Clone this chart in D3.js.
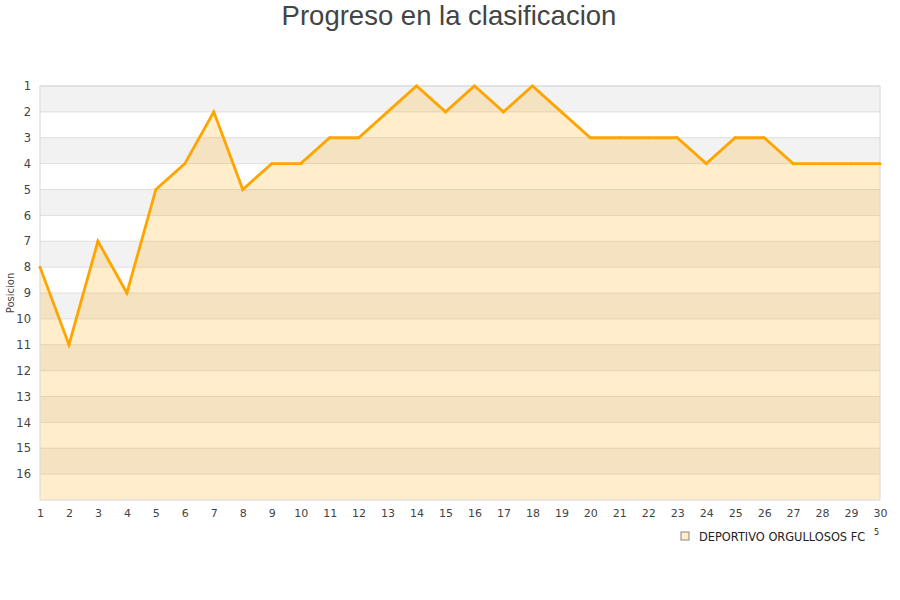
<!DOCTYPE html>
<html>
<head>
<meta charset="utf-8">
<script src="https://cdn.jsdelivr.net/npm/d3@7"></script>
<style>
  body { margin: 0; background: #fff; }
  svg { display: block; }
</style>
</head>
<body>
<div id="chart"></div>
<script>
// jornadas y posiciones
var jornadas = d3.range(1, 31);
var posiciones = [8, 11, 7, 9, 5, 4, 2, 5, 4, 4, 3, 3, 2, 1, 2, 1, 2, 1, 2, 3,
                  3, 3, 3, 4, 3, 3, 4, 4, 4, 4];
var yTicks = d3.range(1, 17);
var equipo = "DEPORTIVO ORGULLOSOS FC";
var titulo = "Progreso en la clasificacion";

var width = 900, height = 600;
var margin = {top: 86, right: 20, bottom: 100, left: 40};

var svg = d3.select("#chart").append("svg")
    .attr("width", width)
    .attr("height", height);

var x = d3.scaleLinear()
    .domain([1, 30])
    .range([margin.left, width - margin.right]);

var y = d3.scaleLinear()
    .domain([1, 17])
    .range([margin.top, height - margin.bottom]);

// bandas alternas
svg.append("g").selectAll("rect")
    .data(d3.range(1, 17))
    .enter().append("rect")
    .attr("x", x(1))
    .attr("y", function(d) { return y(d); })
    .attr("width", x(30) - x(1))
    .attr("height", function(d) { return y(d + 1) - y(d); })
    .attr("fill", function(d) { return d % 2 == 1 ? "#f2f2f2" : "#ffffff"; });

// lineas de la rejilla
svg.append("g").selectAll("line")
    .data(yTicks)
    .enter().append("line")
    .attr("x1", x(1))
    .attr("x2", x(30))
    .attr("y1", function(d) { return y(d); })
    .attr("y2", function(d) { return y(d); })
    .attr("stroke", "#dedede")
    .attr("stroke-width", 1);

var data = jornadas.map(function(j, i) { return {j: j, p: posiciones[i]}; });

var area = d3.area()
    .x(function(d) { return x(d.j); })
    .y0(y(17))
    .y1(function(d) { return y(d.p); });

svg.append("path")
    .attr("d", area(data))
    .attr("fill", "#ffa500")
    .attr("fill-opacity", 0.2);

// marco
svg.append("rect")
    .attr("x", x(1))
    .attr("y", y(1))
    .attr("width", x(30) - x(1))
    .attr("height", y(17) - y(1))
    .attr("fill", "none")
    .attr("stroke", "#d8d8d8")
    .attr("stroke-width", 1);

var line = d3.line()
    .x(function(d) { return x(d.j); })
    .y(function(d) { return y(d.p); });

svg.append("path")
    .attr("d", line(data))
    .attr("stroke", "#ffa500")
    .attr("stroke-width", 2.8)
    .attr("stroke-linejoin", "miter")
    .attr("fill", "none");

svg.append("g").selectAll("circle")
    .data(data)
    .enter().append("circle")
    .attr("cx", function(d) { return x(d.j); })
    .attr("cy", function(d) { return y(d.p); })
    .attr("r", 1.5)
    .attr("fill", "#ffa500");

// eje y
var yAxis = d3.axisLeft(y).tickValues(yTicks).tickSize(0).tickPadding(9);
var gy = svg.append("g")
    .attr("transform", "translate(" + x(1) + ",0)")
    .call(yAxis);
gy.select(".domain").remove();
gy.selectAll("text")
    .attr("font-family", "DejaVu Sans, sans-serif")
    .attr("font-size", 11.5)
    .attr("fill", "#444");

// eje x
var xAxis = d3.axisBottom(x).tickValues(jornadas).tickSize(0).tickPadding(9);
var gx = svg.append("g")
    .attr("transform", "translate(0," + y(17) + ")")
    .call(xAxis);
gx.select(".domain").remove();
gx.selectAll("text")
    .attr("font-family", "DejaVu Sans, sans-serif")
    .attr("font-size", 11)
    .attr("fill", "#444");

svg.append("text")
    .attr("transform", "translate(14," + ((y(1) + y(17)) / 2) + ") rotate(-90)")
    .attr("text-anchor", "middle")
    .attr("font-family", "DejaVu Sans, sans-serif")
    .attr("font-size", 10)
    .attr("fill", "#444")
    .text("Posicion");

svg.append("text")
    .attr("x", width / 2 - 1)
    .attr("y", 25)
    .attr("text-anchor", "middle")
    .attr("font-family", "Liberation Sans, Arial, sans-serif")
    .attr("font-size", 27.5)
    .attr("fill", "#444")
    .text(titulo);

// leyenda
var leg = svg.append("g").attr("transform", "translate(681,532)");
leg.append("rect")
    .attr("width", 8)
    .attr("height", 8)
    .attr("fill", "#ffedcc")
    .attr("stroke", "#888")
    .attr("stroke-width", 1);
leg.append("text")
    .attr("x", 18)
    .attr("y", 8.5)
    .attr("font-family", "DejaVu Sans, sans-serif")
    .attr("font-size", 11.4)
    .attr("fill", "#222")
    .text(equipo);
leg.append("text")
    .attr("x", 193)
    .attr("y", 3)
    .attr("font-family", "DejaVu Sans, sans-serif")
    .attr("font-size", 8)
    .attr("fill", "#222")
    .text("5");
</script>
</body>
</html>
